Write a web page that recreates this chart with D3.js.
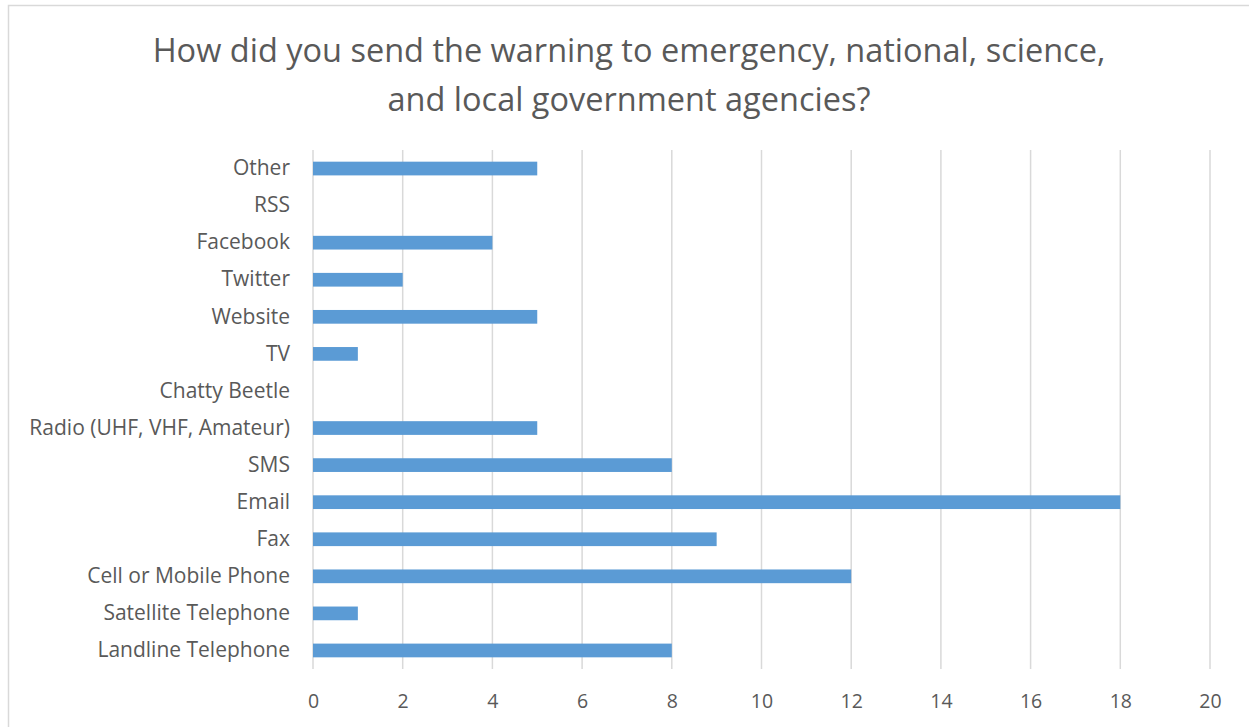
<!DOCTYPE html>
<html>
<head>
<meta charset="utf-8">
<script src="https://cdn.jsdelivr.net/npm/d3@7"></script>
<style>
  html, body { margin: 0; padding: 0; background: #fff; }
  svg { display: block; }
  text { font-family: "Open Sans", "Noto Sans", sans-serif; fill: #595959; }
</style>
</head>
<body>
<svg id="chart" width="1249" height="727"></svg>
<script>
// Survey responses: how warnings were sent to agencies (listed bottom to top)
const categories = [
  "Landline Telephone", "Satellite Telephone", "Cell or Mobile Phone", "Fax",
  "Email", "SMS", "Radio (UHF, VHF, Amateur)", "Chatty Beetle", "TV",
  "Website", "Twitter", "Facebook", "RSS", "Other"
];
const counts = [8, 1, 12, 9, 18, 8, 5, 0, 1, 5, 2, 4, 0, 5];
const xTicks = [0, 2, 4, 6, 8, 10, 12, 14, 16, 18, 20];
const titleLines = [
  "How did you send the warning to emergency, national, science,",
  "and local government agencies?"
];

const svg = d3.select("#chart");
const W = 1249, H = 727;

// chart frame
svg.append("rect")
  .attr("x", 8.5).attr("y", 5.5)
  .attr("width", W + 10).attr("height", H + 10)
  .attr("fill", "#fff").attr("stroke", "#d9d9d9").attr("stroke-width", 1.5);

const plot = { left: 313, right: 1210, top: 150, bottom: 669 };

const x = d3.scaleLinear().domain([0, 20]).range([plot.left, plot.right]);
// reversed domain so the first category sits at the bottom
const y = d3.scaleBand()
  .domain(categories.slice().reverse())
  .range([plot.top, plot.bottom])
  .paddingInner(0.63).paddingOuter(0.315);

// title
svg.append("text")
  .attr("text-anchor", "middle")
  .style("font-size", "32.5px")
  .selectAll("tspan").data(titleLines).join("tspan")
  .attr("x", 629)
  .attr("y", (d, i) => 62 + i * 49)
  .text(d => d);

// vertical gridlines
svg.append("g").selectAll("line").data(xTicks).join("line")
  .attr("x1", d => x(d)).attr("x2", d => x(d))
  .attr("y1", plot.top).attr("y2", plot.bottom)
  .attr("stroke", "#d9d9d9").attr("stroke-width", 1.5);

// bars
svg.append("g").selectAll("rect").data(categories).join("rect")
  .attr("x", x(0))
  .attr("y", d => y(d))
  .attr("width", (d, i) => x(counts[i]) - x(0))
  .attr("height", y.bandwidth())
  .attr("fill", "#5b9bd5");

// x axis labels
const xAxis = d3.axisBottom(x).tickValues(xTicks).tickSize(0).tickPadding(0);
const gx = svg.append("g").attr("transform", `translate(0, ${plot.bottom + 39})`).call(xAxis);
gx.select(".domain").remove();
gx.selectAll("text").style("font-size", "19.5px").attr("fill", "#595959").attr("dy", "0");

// y axis labels
const yAxis = d3.axisLeft(y).tickSize(0).tickPadding(23);
const gy = svg.append("g").attr("transform", `translate(${plot.left}, 0)`).call(yAxis);
gy.select(".domain").remove();
gy.selectAll("text").style("font-size", "21px").attr("fill", "#595959");
</script>
</body>
</html>
